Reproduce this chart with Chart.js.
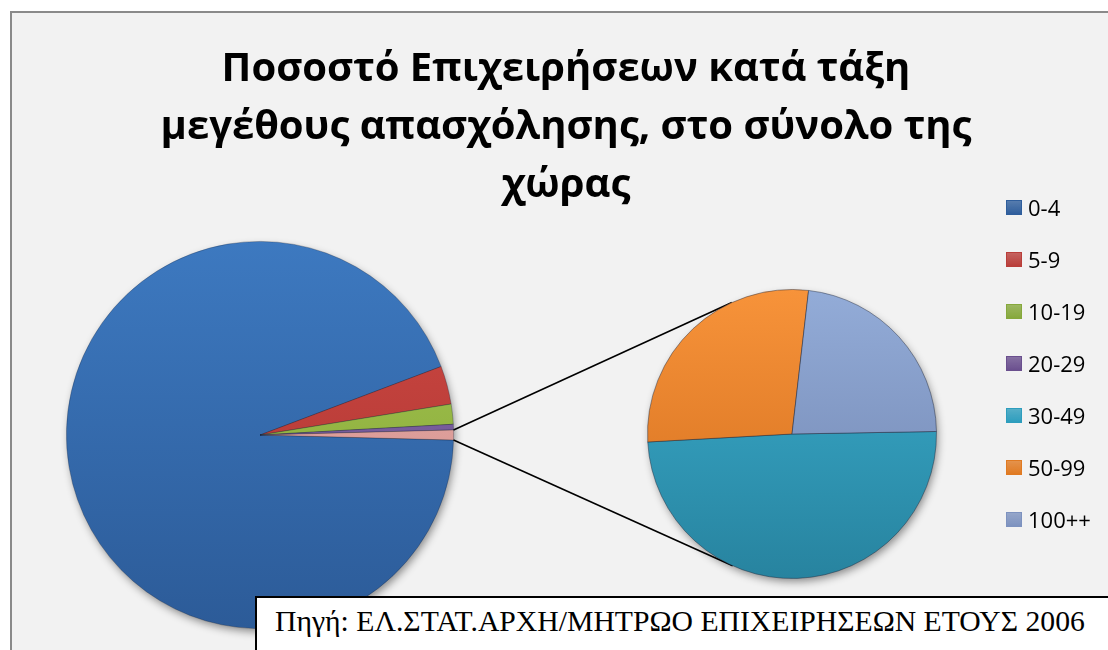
<!DOCTYPE html>
<html lang="el">
<head>
<meta charset="utf-8">
<script src="https://cdn.jsdelivr.net/npm/chart.js@4.4.1/dist/chart.umd.min.js"></script>
<style>
  html, body { margin: 0; padding: 0; background: #ffffff; }
  body { width: 1108px; height: 650px; position: relative; overflow: hidden; }
  #frame { position: absolute; left: 10px; top: 11px; width: 1120px; height: 660px;
           background: #f2f2f2; border-left: 2px solid #8a8a8a; border-top: 2px solid #8a8a8a; }
  canvas { position: absolute; left: 0; top: 0; }
  #title { position: absolute; left: 0; top: 37px; width: 1132px; text-align: center;
           font-family: "Open Sans", sans-serif; font-weight: 700; font-size: 40px; line-height: 58px; color: #000; }
  #legend { position: absolute; left: 1006px; top: 0; width: 110px; }
  .item { position: absolute; left: 0; height: 30px; display: flex; align-items: center; white-space: nowrap;
          font-family: "Open Sans", sans-serif; font-size: 22px; color: #000; }
  .sw { width: 16px; height: 15px; margin-right: 6px; box-sizing: border-box; }
  #source { position: absolute; left: 255px; top: 596px; width: 900px; height: 80px; background: #fff;
            border: 2px solid #000; box-sizing: border-box; z-index: 5;
            font-family: "Liberation Serif", "Times New Roman", serif; font-size: 29.7px; color: #000; }
  #source span { position: absolute; left: 18px; top: 7px; white-space: nowrap; }
</style>
</head>
<body>
<div id="frame"></div>
<canvas id="mainPie" width="1108" height="650"></canvas>
<canvas id="subPie" width="1108" height="650"></canvas>
<div id="title">Ποσοστό Επιχειρήσεων κατά τάξη<br>μεγέθους απασχόλησης, στο σύνολο της<br>χώρας</div>
<div id="legend"></div>
<div id="source"><span>Πηγή: ΕΛ.ΣΤΑΤ.ΑΡΧΗ/ΜΗΤΡΩΟ ΕΠΙΧΕΙΡΗΣΕΩΝ ΕΤΟΥΣ 2006</span></div>
<script>
// ---- data (percent of enterprises) ----
const categories = ['0-4', '5-9', '10-19', '20-29', '30-49', '50-99', '100++'];
const mainLabels = ['0-4', '5-9', '10-19', '20-29', 'Λοιπές'];
const mainValues = [93.83, 3.20, 1.67, 0.47];          // first pie (without the "other" slice)
const secondaryLabels = ['30-49', '50-99', '100++'];
const secondaryValues = [0.41, 0.23, 0.19];            // second pie (breakdown of "other")

// ---- styles ----
const legendColors = ['#2f5e9c', '#b93e3a', '#86a83c', '#6a4f8e', '#2d9dbd', '#e07a22', '#7d92bf'];
const mainTop    = ['#3d79c0', '#d04a44', '#a8cc52', '#8a6cb0', '#f0b5b1'];
const mainBottom = ['#2c5b98', '#a8322f', '#7f9d34', '#624a85', '#c98682'];
const subTop     = ['#3cb0d0', '#f7933a', '#93acd8'];
const subBottom  = ['#27839f', '#d26d1c', '#6f83ae'];

const otherValue = secondaryValues.reduce((a, b) => a + b, 0);
const mainData = mainValues.concat([otherValue]);
const mainTotal = mainData.reduce((a, b) => a + b, 0);
const otherDeg = otherValue / mainTotal * 360;

function grad(tops, bottoms) {
  return (ctx) => {
    const chart = ctx.chart, area = chart.chartArea;
    const i = ctx.dataIndex;
    if (!area || i === undefined) return tops[i || 0];
    const g = chart.ctx.createLinearGradient(0, area.top, 0, area.bottom);
    g.addColorStop(0, tops[i]);
    g.addColorStop(1, bottoms[i]);
    return g;
  };
}

const shadowPlugin = {
  id: 'pieShadow',
  beforeDatasetsDraw(chart) {
    const arc = chart.getDatasetMeta(0).data[0];
    if (!arc) return;
    const ctx = chart.ctx;
    ctx.save();
    ctx.shadowColor = 'rgba(0,0,0,0.45)';
    ctx.shadowBlur = 8;
    ctx.shadowOffsetX = 2;
    ctx.shadowOffsetY = 4;
    ctx.fillStyle = '#444';
    ctx.beginPath();
    ctx.arc(arc.x, arc.y, arc.outerRadius - 1, 0, Math.PI * 2);
    ctx.fill();
    ctx.restore();
  }
};

const common = {
  responsive: false,
  animation: false,
  devicePixelRatio: 1,
  events: [],
  plugins: { legend: { display: false }, tooltip: { enabled: false }, title: { display: false } }
};

const mainChart = new Chart(document.getElementById('mainPie'), {
  type: 'pie',
  data: {
    labels: mainLabels,
    datasets: [{
      data: mainData,
      backgroundColor: grad(mainTop, mainBottom),
      borderColor: 'rgba(20,30,50,0.35)',
      borderWidth: 0.8,
      rotation: 90 + otherDeg / 2
    }]
  },
  options: Object.assign({}, common, {
    layout: { padding: { left: 66, right: 654, top: 241, bottom: 21 } }
  }),
  plugins: [shadowPlugin]
});

const connectorPlugin = {
  id: 'connectors',
  beforeDatasetsDraw(chart) {
    const other = mainChart.getDatasetMeta(0).data[mainData.length - 1];
    const sub = chart.getDatasetMeta(0).data[0];
    if (!other || !sub) return;
    const cx = sub.x, cy = sub.y, R = sub.outerRadius;
    const pts = [
      { a: other.startAngle, upper: true },
      { a: other.endAngle, upper: false }
    ];
    const ctx = chart.ctx;
    ctx.save();
    ctx.strokeStyle = '#000';
    ctx.lineWidth = 1.6;
    pts.forEach(p => {
      const px = other.x + other.outerRadius * Math.cos(p.a);
      const py = other.y + other.outerRadius * Math.sin(p.a);
      const d = Math.hypot(px - cx, py - cy);
      const th = Math.atan2(py - cy, px - cx);
      const al = Math.acos(R / d);
      const t = p.upper ? th + al : th - al;
      ctx.beginPath();
      ctx.moveTo(px, py);
      ctx.lineTo(cx + R * Math.cos(t), cy + R * Math.sin(t));
      ctx.stroke();
    });
    ctx.restore();
  }
};

const subChart = new Chart(document.getElementById('subPie'), {
  type: 'pie',
  data: {
    labels: secondaryLabels,
    datasets: [{
      data: secondaryValues,
      backgroundColor: grad(subTop, subBottom),
      borderColor: 'rgba(30,40,60,0.45)',
      borderWidth: 1,
      rotation: 89
    }]
  },
  options: Object.assign({}, common, {
    layout: { padding: { left: 647, right: 171, top: 289, bottom: 71 } }
  }),
  plugins: [connectorPlugin, shadowPlugin]
});

// ---- legend ----
const legend = document.getElementById('legend');
categories.forEach((c, i) => {
  const d = document.createElement('div');
  d.className = 'item';
  d.style.top = (207 + i * 52 - 15) + 'px';
  const sw = document.createElement('div');
  sw.className = 'sw';
  sw.style.background = 'linear-gradient(to bottom, ' + legendColors[i] + 'cc, ' + legendColors[i] + ')';
  sw.style.border = '1px solid ' + legendColors[i];
  const t = document.createElement('span');
  t.textContent = c;
  d.appendChild(sw); d.appendChild(t);
  legend.appendChild(d);
});
</script>
</body>
</html>
